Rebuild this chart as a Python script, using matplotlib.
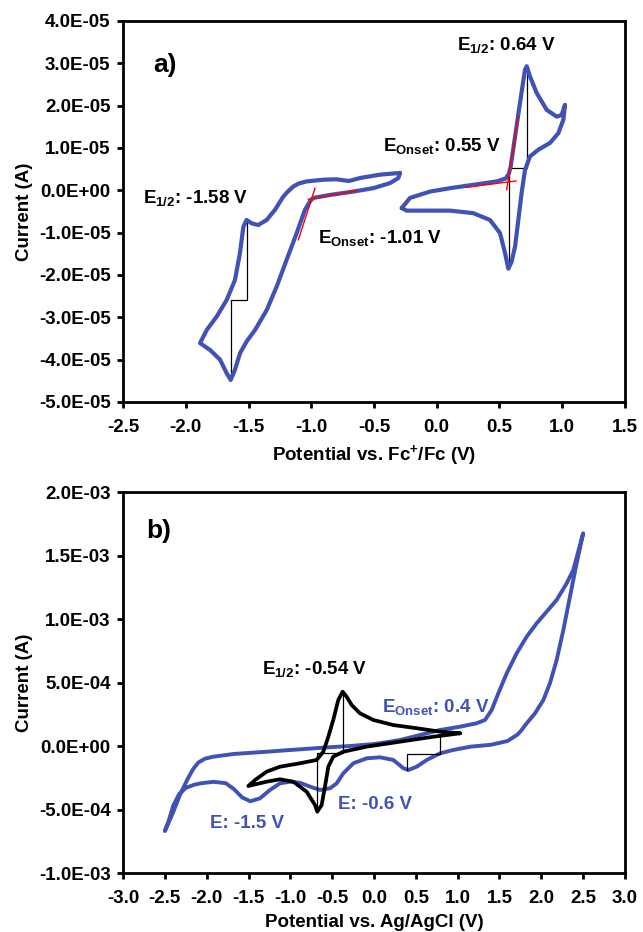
import matplotlib
matplotlib.use("Agg")
import matplotlib.pyplot as plt
from matplotlib.ticker import FuncFormatter

plt.rcParams['font.family'] = ['Liberation Sans', 'DejaVu Sans']
plt.rcParams['font.weight'] = 'bold'
plt.rcParams['mathtext.default'] = 'regular'

BLUE = '#4052b5'

# ---- panel a) : potential (V vs Fc+/Fc), current in uA ----
left_cv_v = [-0.293, -0.452, -0.612, -0.70, -0.80, -0.904, -1.036, -1.100, -1.143, -1.190,
             -1.223, -1.289, -1.355, -1.422, -1.475, -1.515, -1.541, -1.568, -1.608, -1.674,
             -1.753, -1.833, -1.886, -1.807, -1.727, -1.674, -1.642, -1.608, -1.568, -1.515,
             -1.448, -1.355, -1.275, -1.196, -1.116, -1.050, -1.010, -0.984, -0.851, -0.665,
             -0.506, -0.373, -0.306, -0.293]
left_cv_ua = [4.1, 3.7, 2.9, 2.2, 2.6, 2.5, 2.1, 1.6, 0.9, -0.4,
              -1.5, -4.6, -7.0, -8.2, -7.8, -7.0, -8.6, -14.8, -21.2, -25.9,
              -29.8, -33.0, -36.1, -37.7, -40.0, -43.2, -44.8, -42.4, -38.5, -35.7,
              -33.0, -28.3, -22.7, -16.4, -10.1, -4.6, -2.6, -1.8, -1.1, -0.3,
              0.5, 1.7, 2.9, 4.1]

right_cv_v = [-0.279, -0.213, -0.054, 0.106, 0.291, 0.478, 0.550, 0.575, 0.589, 0.624,
              0.663, 0.703, 0.717, 0.743, 0.796, 0.876, 0.956, 0.995, 1.022, 1.009,
              0.969, 0.903, 0.810, 0.743, 0.703, 0.676, 0.650, 0.624, 0.595, 0.570,
              0.544, 0.504, 0.424, 0.291, 0.106, -0.107, -0.240, -0.279]
right_cv_ua = [-4.2, -1.8, -0.3, 0.5, 1.3, 2.1, 2.8, 4.0, 5.6, 12.7,
               20.6, 28.5, 29.3, 26.9, 23.0, 19.0, 17.4, 17.8, 20.2, 16.7,
               13.5, 11.2, 9.6, 8.0, 4.8, -0.7, -7.0, -13.3, -17.0, -18.5,
               -14.8, -10.1, -7.0, -5.4, -4.8, -4.8, -4.8, -4.2]

half_a_left_v = [-1.515, -1.515, -1.642, -1.642]
half_a_left_ua = [-7.0, -25.9, -25.9, -44.8]
half_a_right_v = [0.717, 0.717, 0.575, 0.575]
half_a_right_ua = [29.3, 5.2, 5.2, -18.5]

onset_left_tan_v = [-1.103, -0.970]
onset_left_tan_ua = [-11.7, 0.5]
onset_left_base_v = [-1.023, -0.638]
onset_left_base_ua = [-2.1, -0.05]
onset_right_tan_v = [0.557, 0.650]
onset_right_tan_ua = [0.1, 17.5]
onset_right_base_v = [0.235, 0.631]
onset_right_base_ua = [0.7, 2.2]

xticks_a = [-2.5, -2.0, -1.5, -1.0, -0.5, 0.0, 0.5, 1.0, 1.5]
yticks_a = [4e-5, 3e-5, 2e-5, 1e-5, 0.0, -1e-5, -2e-5, -3e-5, -4e-5, -5e-5]

# ---- panel b) : potential (V vs Ag/AgCl), current in mA ----
blue_cv_v = [0.012, -0.287, -0.565, -0.885, -1.283, -1.68, -1.92, -2.02, -2.10, -2.16,
             -2.22, -2.31, -2.40, -2.50, -2.454, -2.40, -2.33, -2.25, -2.15, -2.063,
             -1.917, -1.771, -1.673, -1.576, -1.478, -1.363, -1.243, -1.124, -1.004, -0.885,
             -0.765, -0.646, -0.526, -0.446, -0.367, -0.247, -0.088, 0.072, 0.231, 0.351,
             0.41, 0.51, 0.63, 0.789, 0.948, 1.156, 1.40, 1.595, 1.717, 1.765,
             1.825, 1.924, 2.024, 2.103, 2.183, 2.263, 2.342, 2.422, 2.50, 2.382,
             2.303, 2.183, 2.064, 1.944, 1.825, 1.705, 1.586, 1.486, 1.406, 1.327,
             1.227, 1.028, 0.789, 0.311, 0.012]
blue_cv_ma = [0.016, 0.0, -0.011, -0.026, -0.045, -0.063, -0.084, -0.10, -0.13, -0.18,
              -0.25, -0.37, -0.52, -0.67, -0.59, -0.47, -0.38, -0.33, -0.305, -0.293,
              -0.282, -0.293, -0.34, -0.405, -0.435, -0.412, -0.346, -0.294, -0.281, -0.289,
              -0.32, -0.346, -0.333, -0.294, -0.215, -0.136, -0.097, -0.089, -0.11, -0.175,
              -0.189, -0.163, -0.11, -0.058, -0.031, -0.005, 0.01, 0.039, 0.091, 0.126,
              0.179, 0.257, 0.362, 0.494, 0.677, 0.913, 1.176, 1.439, 1.675, 1.386,
              1.281, 1.15, 1.058, 0.966, 0.861, 0.730, 0.572, 0.415, 0.283, 0.205,
              0.179, 0.152, 0.126, 0.047, 0.016]

black_cv_v = [1.028, 0.789, 0.51, 0.231, -0.008, -0.167, -0.267, -0.327, -0.375, -0.427,
              -0.487, -0.546, -0.606, -0.686, -0.885, -1.124, -1.283, -1.422, -1.502, -1.283,
              -1.124, -0.965, -0.805, -0.705, -0.678, -0.626, -0.586, -0.546, -0.487, -0.367,
              -0.088, 0.311, 0.709, 1.028]
black_cv_ma = [0.10, 0.113, 0.14, 0.165, 0.205, 0.257, 0.323, 0.388, 0.428, 0.362,
               0.205, 0.073, -0.045, -0.11, -0.136, -0.163, -0.202, -0.268, -0.315, -0.281,
               -0.262, -0.281, -0.36, -0.465, -0.517, -0.465, -0.32, -0.163, -0.084, -0.045,
               -0.005, 0.034, 0.073, 0.10]

half_b_v = [-0.375, -0.375, -0.678, -0.678]
half_b_ma = [0.428, -0.053, -0.053, -0.517]
onset_b_v = [0.789, 0.789, 0.39, 0.39]
onset_b_ma = [0.09, -0.06, -0.06, -0.19]

xticks_b = [-3.0, -2.5, -2.0, -1.5, -1.0, -0.5, 0.0, 0.5, 1.0, 1.5, 2.0, 2.5, 3.0]
yticks_b = [2e-3, 1.5e-3, 1e-3, 5e-4, 0.0, -5e-4, -1e-3]


def style_axes(ax, xticks, yticks, xlabel):
    for sp in ax.spines.values():
        sp.set_linewidth(2.0)
    ax.set_xlim(xticks[0], xticks[-1])
    ax.set_ylim(min(yticks), max(yticks))
    ax.set_xticks(xticks)
    ax.set_yticks(yticks)
    ax.xaxis.set_major_formatter(FuncFormatter(lambda v, p: "%.1f" % (round(v, 2) + 0.0)))
    ax.yaxis.set_major_formatter(FuncFormatter(lambda v, p: "%.1E" % (v + 0.0)))
    ax.tick_params(direction='out', length=4, width=2, labelsize=13.5)
    ax.tick_params(axis='y', pad=5)
    ax.tick_params(axis='x', pad=8)
    ax.set_xlabel(xlabel, fontsize=13.5, fontweight='bold', labelpad=5)
    ax.set_ylabel("Current (A)", fontsize=13.5, fontweight='bold', labelpad=4)


fig = plt.figure(figsize=(6.43, 9.32), dpi=100)
ax1 = fig.add_axes([0.1913, 0.5687, 0.7807, 0.4088])
ax2 = fig.add_axes([0.1913, 0.0633, 0.7807, 0.4088])

ua = 1e-6
ma = 1e-3
cv_kw = dict(solid_joinstyle='round', solid_capstyle='round')

# panel a
ax1.plot(half_a_left_v, [i * ua for i in half_a_left_ua], color='black', lw=0.9)
ax1.plot(half_a_right_v, [i * ua for i in half_a_right_ua], color='black', lw=0.9)
ax1.plot(left_cv_v, [i * ua for i in left_cv_ua], color=BLUE, lw=3.0, **cv_kw)
ax1.plot(right_cv_v, [i * ua for i in right_cv_ua], color=BLUE, lw=3.0, **cv_kw)
for xs, ys in [(onset_left_tan_v, onset_left_tan_ua), (onset_left_base_v, onset_left_base_ua),
               (onset_right_tan_v, onset_right_tan_ua), (onset_right_base_v, onset_right_base_ua)]:
    ax1.plot(xs, [i * ua for i in ys], color='red', lw=1.0)

ax1.text(-2.26, 2.96e-5, "a)", fontsize=19, fontweight='bold', va='center')
ax1.text(0.16, 3.44e-5, "E$_{1/2}$: 0.64 V", fontsize=13.5, fontweight='bold', va='center')
ax1.text(-0.43, 1.04e-5, "E$_{Onset}$: 0.55 V", fontsize=13.5, fontweight='bold', va='center')
ax1.text(-2.34, -0.18e-5, "E$_{1/2}$: -1.58 V", fontsize=13.5, fontweight='bold', va='center')
ax1.text(-0.95, -1.13e-5, "E$_{Onset}$: -1.01 V", fontsize=13.5, fontweight='bold', va='center')
style_axes(ax1, xticks_a, yticks_a, "Potential vs. Fc$^{+}$/Fc (V)")

# panel b
ax2.plot(blue_cv_v, [i * ma for i in blue_cv_ma], color=BLUE, lw=2.8, **cv_kw)
ax2.plot(black_cv_v, [i * ma for i in black_cv_ma], color='black', lw=2.7, **cv_kw)
ax2.plot(half_b_v, [i * ma for i in half_b_ma], color='black', lw=0.9)
ax2.plot(onset_b_v, [i * ma for i in onset_b_ma], color='black', lw=0.9)

ax2.text(-2.72, 1.69e-3, "b)", fontsize=19, fontweight='bold', va='center')
ax2.text(-1.34, 0.61e-3, "E$_{1/2}$: -0.54 V", fontsize=13.5, fontweight='bold', va='center')
ax2.text(0.09, 0.31e-3, "E$_{Onset}$: 0.4 V", fontsize=13.5, fontweight='bold', va='center',
         color=BLUE)
ax2.text(-0.435, -0.46e-3, "E: -0.6 V", fontsize=13.5, fontweight='bold', va='center', color=BLUE)
ax2.text(-1.96, -0.61e-3, "E: -1.5 V", fontsize=13.5, fontweight='bold', va='center', color=BLUE)
style_axes(ax2, xticks_b, yticks_b, "Potential vs. Ag/AgCl (V)")

fig.savefig("out.png", dpi=100)
